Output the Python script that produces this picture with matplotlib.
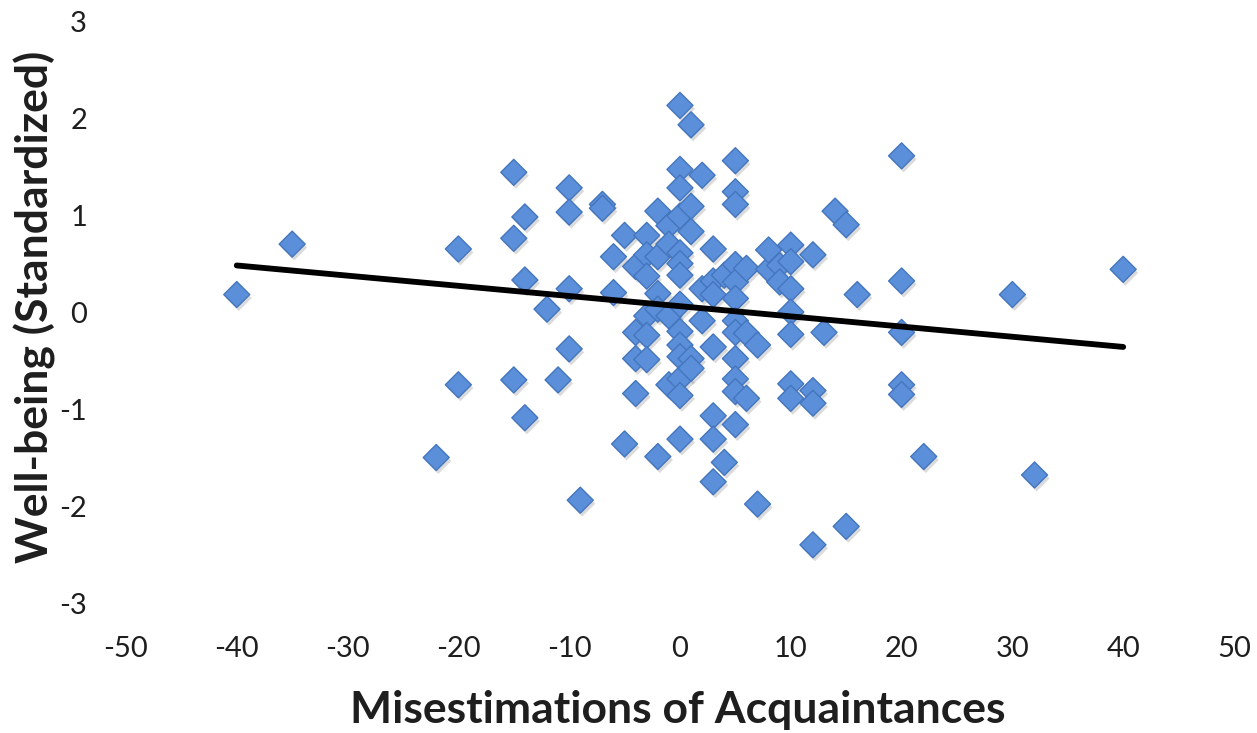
import matplotlib
matplotlib.use("Agg")
import matplotlib.pyplot as plt
import matplotlib.patheffects as pe

# ── data ──────────────────────────────────────────────────────────────────────
misestimation = [
    -40, -35, -22, -20, -20, -15, -15, -15, -14, -14, -14, -12, -11,
    -10, -10, -10, -10, -9, -7, -7, -6, -6, -5, -5,
    -4, -4, -4, -4, -3, -3, -3, -3, -3, -3,
    -2, -2, -2, -2, -2, -1, -1, -1, -1,
    0, 0, 0, 0, 0, 0, 0, 0, 0, 0, 0, 0, 0, 0,
    1, 1, 1, 1, 1, 2, 2, 2,
    3, 3, 3, 3, 3, 3, 3, 4, 4,
    5, 5, 5, 5, 5, 5, 5, 5, 5, 5, 5, 5,
    6, 6, 6, 7, 7, 8, 8, 9, 9,
    10, 10, 10, 10, 10, 10, 10, 12, 12, 12, 12, 13, 14, 15, 15, 16,
    20, 20, 20, 20, 20, 22, 30, 32, 40,
]
wellbeing = [
    0.19, 0.71, -1.49, 0.66, -0.74, 1.45, 0.77, -0.69, 0.99, 0.34, -1.08, 0.04, -0.69,
    1.29, 1.04, 0.25, -0.37, -1.93, 1.12, 1.08, 0.58, 0.21, 0.80, -1.35,
    0.48, -0.20, -0.47, -0.83, 0.80, 0.60, 0.38, -0.03, -0.23, -0.48,
    1.05, 0.58, 0.20, 0.04, -1.48, 0.90, 0.71, -0.03, -0.74,
    2.14, 1.48, 1.29, 1.00, 0.62, 0.51, 0.39, 0.09, -0.19, -0.33, -0.45, -0.68, -0.85, -1.30,
    1.94, 1.10, 0.84, -0.47, -0.57, 1.42, 0.25, -0.08,
    0.66, 0.33, 0.19, -0.35, -1.06, -1.30, -1.74, 0.39, -1.54,
    1.57, 1.25, 1.12, 0.50, 0.32, 0.15, -0.08, -0.20, -0.47, -0.68, -0.81, -1.15,
    0.46, -0.21, -0.88, -0.33, -1.97, 0.45, 0.65, 0.49, 0.32,
    0.70, 0.53, 0.25, 0.01, -0.22, -0.73, -0.88, 0.60, -0.80, -0.93, -2.39, -0.20, 1.05, 0.91, -2.20, 0.19,
    1.62, 0.33, -0.20, -0.74, -0.84, -1.48, 0.19, -1.67, 0.45,
]
trend_x = [-40, 40]
trend_y = [0.49, -0.35]

x_ticks = [-50, -40, -30, -20, -10, 0, 10, 20, 30, 40, 50]
y_ticks = [-3, -2, -1, 0, 1, 2, 3]

# ── style ────────────────────────────────────────────────────────────────────
plt.rcParams.update({
    "font.family": ["Lato", "DejaVu Sans"],
    "text.color": "#1e1e1e",
    "axes.unicode_minus": False,
})

fig = plt.figure(figsize=(12.57, 7.33), dpi=100)
ax = fig.add_axes([0.1002, 0.176, 0.8815, 0.794])

pts = ax.scatter(misestimation, wellbeing, marker="D", s=175,
                 facecolor="#5B8FD9", edgecolor="#4476BE", linewidth=1.0,
                 zorder=3)
pts.set_path_effects([
    pe.SimplePatchShadow(offset=(1.5, -2.5), shadow_rgbFace="#9a9a9a", alpha=0.35),
    pe.Normal(),
])

ax.plot(trend_x, trend_y, color="black", linewidth=4.2,
        solid_capstyle="round", zorder=4)

ax.set_xlim(-50, 50)
ax.set_ylim(-3, 3)
ax.set_xticks(x_ticks)
ax.set_yticks(y_ticks)
ax.tick_params(axis="both", length=0, labelsize=21, colors="#1e1e1e")
ax.tick_params(axis="y", pad=28)
ax.tick_params(axis="x", pad=23)
for s in ax.spines.values():
    s.set_visible(False)

fig.text(0.539, 0.031, "Misestimations of Acquaintances",
         ha="center", va="center", fontsize=32, fontweight="bold")
fig.text(0.028, 0.581, "Well-being (Standardized)", rotation=90,
         ha="center", va="center", fontsize=32, fontweight="bold")

fig.savefig("out.png", dpi=100)
